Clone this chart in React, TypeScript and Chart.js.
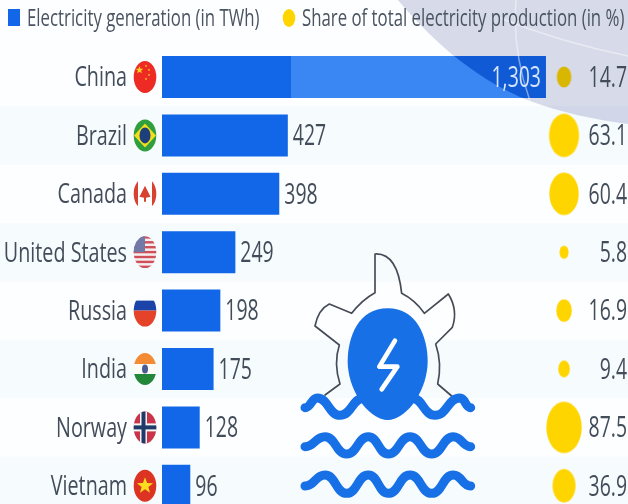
import React, { useEffect, useRef } from "react";
import { Chart, registerables } from "chart.js";

Chart.register(...registerables);

const countries = ["China", "Brazil", "Canada", "United States", "Russia", "India", "Norway", "Vietnam"];
const generation = [1303, 427, 398, 249, 198, 175, 128, 96];
const share = [14.7, 63.1, 60.4, 5.8, 16.9, 9.4, 87.5, 36.9];
const shareLabels = ["14.7", "63.1", "60.4", "5.8", "16.9", "9.4", "87.5", "36.9"];
const legendBar = "Electricity generation (in TWh)";
const legendShare = "Share of total electricity production (in %)";

const FONT = '"Open Sans", sans-serif';
const TEXT = "#434d5a";
const BLUE = "#1167e8";
const YELLOW = "#ffd500";

function text(ctx: any, s: string, x: number, y: number, size: number, align: string, color: string, sx: number) {
  ctx.save();
  ctx.translate(x, y);
  ctx.scale(sx, 1);
  ctx.font = `${size}px ${FONT}`;
  ctx.textAlign = align;
  ctx.textBaseline = "middle";
  ctx.fillStyle = color;
  ctx.fillText(s, 0, 0);
  ctx.restore();
}

function dot(value: number) {
  const rx = 1.89 * Math.sqrt(value);
  const ry = rx * 1.45;
  const c = document.createElement("canvas");
  c.width = Math.ceil(rx * 2) + 2;
  c.height = Math.ceil(ry * 2) + 2;
  const g = c.getContext("2d")!;
  g.fillStyle = YELLOW;
  g.beginPath();
  g.ellipse(c.width / 2, c.height / 2, rx, ry, 0, 0, Math.PI * 2);
  g.fill();
  return c;
}

function swooshPath(ctx: any) {
  ctx.beginPath();
  ctx.moveTo(398, 0);
  ctx.bezierCurveTo(425, 32, 470, 78, 530, 101);
  ctx.bezierCurveTo(560, 112, 595, 120, 628, 124);
  ctx.lineTo(628, 0);
  ctx.closePath();
}

function star(ctx: any, x: number, y: number, r: number, color: string) {
  ctx.fillStyle = color;
  ctx.beginPath();
  for (let i = 0; i < 10; i++) {
    const a = -Math.PI / 2 + (i * Math.PI) / 5;
    const q = i % 2 ? r * 0.42 : r;
    ctx.lineTo(x + q * Math.cos(a), y + q * Math.sin(a));
  }
  ctx.closePath();
  ctx.fill();
}

function flag(ctx: any, name: string, cx: number, cy: number) {
  const rect = (c: string, x: number, y: number, w: number, h: number) => {
    ctx.fillStyle = c;
    ctx.fillRect(cx + x, cy + y, w, h);
  };
  ctx.save();
  ctx.beginPath();
  ctx.ellipse(cx, cy, 11.3, 16, 0, 0, Math.PI * 2);
  ctx.clip();
  if (name === "China") {
    rect("#ee2a24", -12, -17, 24, 34);
    star(ctx, cx - 5.5, cy - 7, 4, "#f7d51d");
    [[1, -11], [4, -7], [4, -2], [1, 2]].forEach(([a, b]) => star(ctx, cx + a, cy + b, 1.4, "#f7d51d"));
  } else if (name === "Brazil") {
    rect("#2f9e3c", -12, -17, 24, 34);
    ctx.fillStyle = "#f2de1e";
    ctx.beginPath();
    ctx.moveTo(cx - 11, cy);
    ctx.lineTo(cx, cy - 12);
    ctx.lineTo(cx + 11, cy);
    ctx.lineTo(cx, cy + 12);
    ctx.closePath();
    ctx.fill();
    ctx.fillStyle = "#1d3f7c";
    ctx.beginPath();
    ctx.ellipse(cx, cy, 5.5, 8, 0, 0, Math.PI * 2);
    ctx.fill();
  } else if (name === "Canada") {
    rect("#ffffff", -12, -17, 24, 34);
    rect("#d8402f", -12, -17, 5, 34);
    rect("#d8402f", 7, -17, 5, 34);
    ctx.fillStyle = "#d8402f";
    ctx.beginPath();
    ctx.moveTo(cx, cy - 8);
    ctx.lineTo(cx + 5.5, cy + 3);
    ctx.lineTo(cx + 1, cy + 4);
    ctx.lineTo(cx + 1, cy + 8);
    ctx.lineTo(cx - 1, cy + 8);
    ctx.lineTo(cx - 1, cy + 4);
    ctx.lineTo(cx - 5.5, cy + 3);
    ctx.closePath();
    ctx.fill();
  } else if (name === "United States") {
    rect("#f5f0f0", -12, -17, 24, 34);
    for (let i = 0; i < 7; i++) rect("#cf4f5a", -12, -16 + i * 4.9, 24, 2.4);
    rect("#717aa6", -12, -17, 12, 17);
  } else if (name === "Russia") {
    rect("#fbfcfe", -12, -17, 24, 7);
    rect("#1c44a8", -12, -10, 24, 10);
    rect("#e4432a", -12, 0, 24, 17);
  } else if (name === "India") {
    rect("#f58a35", -12, -17, 24, 12);
    rect("#fbfbf8", -12, -5, 24, 10);
    rect("#23873a", -12, 5, 24, 12);
    ctx.fillStyle = "#4a5a92";
    ctx.beginPath();
    ctx.ellipse(cx, cy, 3, 4.5, 0, 0, Math.PI * 2);
    ctx.fill();
  } else if (name === "Norway") {
    rect("#c9344a", -12, -17, 24, 34);
    rect("#f7f7f7", -5, -17, 7, 34);
    rect("#f7f7f7", -12, -4, 24, 8);
    rect("#1f3a68", -3.5, -17, 4, 34);
    rect("#1f3a68", -12, -2, 24, 4);
  } else {
    rect("#dc3322", -12, -17, 24, 34);
    star(ctx, cx, cy, 8.5, "#fbdc1e");
  }
  ctx.restore();
}

function wave(ctx: any, points: number[][]) {
  ctx.beginPath();
  ctx.moveTo(points[0][0], points[0][1]);
  for (let i = 1; i < points.length; i++) {
    const [x0, y0] = points[i - 1];
    const [x1, y1] = points[i];
    const m = (x0 + x1) / 2;
    ctx.bezierCurveTo(m, y0, m, y1, x1, y1);
  }
  ctx.stroke();
}

function turbine(ctx: any) {
  ctx.save();
  ctx.translate(290, 240);
  ctx.scale(1 / 3, 1 / 3);
  ctx.lineJoin = "round";
  ctx.lineCap = "round";
  ctx.strokeStyle = "#454c56";
  ctx.lineWidth = 5;
  ctx.beginPath();
  ctx.moveTo(105, 465);
  ctx.lineTo(150, 432);
  ctx.quadraticCurveTo(130, 370, 148, 315);
  ctx.lineTo(75, 258);
  ctx.quadraticCurveTo(85, 208, 118, 192);
  ctx.lineTo(185, 220);
  ctx.quadraticCurveTo(215, 180, 255, 158);
  ctx.lineTo(255, 42);
  ctx.quadraticCurveTo(322, 38, 335, 160);
  ctx.quadraticCurveTo(375, 180, 403, 220);
  ctx.lineTo(475, 162);
  ctx.quadraticCurveTo(505, 210, 487, 262);
  ctx.lineTo(437, 312);
  ctx.quadraticCurveTo(457, 370, 443, 432);
  ctx.lineTo(485, 468);
  ctx.stroke();

  ctx.fillStyle = "#1770e6";
  ctx.beginPath();
  ctx.moveTo(293, 205);
  ctx.bezierCurveTo(380, 205, 413, 290, 413, 365);
  ctx.bezierCurveTo(413, 440, 360, 535, 293, 540);
  ctx.bezierCurveTo(226, 535, 173, 440, 173, 365);
  ctx.bezierCurveTo(173, 290, 206, 205, 293, 205);
  ctx.fill();

  ctx.strokeStyle = "#ffffff";
  ctx.lineWidth = 14;
  ctx.beginPath();
  ctx.moveTo(315, 302);
  ctx.lineTo(268, 380);
  ctx.lineTo(322, 380);
  ctx.lineTo(275, 448);
  ctx.stroke();

  ctx.strokeStyle = "#1770e6";
  ctx.lineWidth = 27;
  wave(ctx, [[45, 503], [82, 474], [150, 526], [222, 474], [293, 526], [365, 474], [435, 526], [510, 474], [542, 503]]);
  wave(ctx, [[45, 620], [105, 590], [170, 642], [235, 590], [295, 642], [360, 590], [425, 642], [490, 590], [542, 620]]);
  wave(ctx, [[45, 738], [105, 705], [170, 760], [235, 705], [295, 760], [360, 705], [425, 760], [490, 705], [542, 738]]);
  ctx.restore();
}

const decor = {
  id: "decor",
  beforeDatasetsDraw(chart: any) {
    const { ctx, scales } = chart;
    ctx.save();
    ctx.fillStyle = "#fdfeff";
    ctx.fillRect(0, 0, chart.width, chart.height);
    const step = scales.y.getPixelForValue(1) - scales.y.getPixelForValue(0);
    ctx.fillStyle = "#f6fbfe";
    countries.forEach((_, i) => {
      if (i % 2 === 1) ctx.fillRect(0, scales.y.getPixelForValue(i) - step / 2, chart.width, step);
    });
    ctx.restore();
  },
  afterDatasetsDraw(chart: any) {
    const { ctx, scales } = chart;
    const bars = chart.getDatasetMeta(0).data;
    ctx.save();
    // grey disc laid over bar and dots
    ctx.globalCompositeOperation = "multiply";
    swooshPath(ctx);
    ctx.fillStyle = "#d9dbe9";
    ctx.fill();
    ctx.save();
    swooshPath(ctx);
    ctx.clip();
    const b = bars[0];
    ctx.fillStyle = "#55c8f5";
    ctx.fillRect(b.base, b.y - b.height / 2, b.x - b.base, b.height);
    ctx.restore();
    ctx.globalCompositeOperation = "source-over";
    ctx.save();
    swooshPath(ctx);
    ctx.clip();
    ctx.strokeStyle = "rgba(255,255,255,0.45)";
    ctx.lineWidth = 1.5;
    ctx.beginPath();
    ctx.moveTo(516, 0);
    ctx.quadraticCurveTo(512, 50, 530, 101);
    ctx.moveTo(500, 18);
    ctx.quadraticCurveTo(560, 42, 628, 56);
    ctx.stroke();
    ctx.restore();

    // legend
    ctx.fillStyle = BLUE;
    ctx.fillRect(8, 9, 12, 17);
    text(ctx, legendBar, 27, 19, 23, "left", "#4a5461", 0.73);
    ctx.fillStyle = YELLOW;
    ctx.beginPath();
    ctx.ellipse(289, 18, 6.3, 9, 0, 0, Math.PI * 2);
    ctx.fill();
    text(ctx, legendShare, 302, 19, 23, "left", "#4a5461", 0.73);

    countries.forEach((name, i) => {
      const y = scales.y.getPixelForValue(i);
      text(ctx, name, 127, y + 1.5, 28, "right", TEXT, 0.705);
      flag(ctx, name, 145, y);
      const bar = bars[i];
      const label = generation[i].toLocaleString("en-US");
      if (i === 0) text(ctx, label, bar.x - 5, y + 1.5, 29, "right", "#d5e6fb", 0.67);
      else text(ctx, label, bar.x + 5, y + 1.5, 29, "left", TEXT, 0.67);
      text(ctx, shareLabels[i], 627, y + 1.5, 29, "right", TEXT, 0.67);
    });
    turbine(ctx);
    ctx.restore();
  },
};

export default function App() {
  const ref = useRef<HTMLCanvasElement>(null);
  useEffect(() => {
    const chart = new Chart(ref.current!, {
      data: {
        labels: countries,
        datasets: [
          {
            type: "bar",
            label: legendBar,
            indexAxis: "y",
            data: generation,
            xAxisID: "x",
            yAxisID: "y",
            grouped: false,
            barPercentage: 1,
            categoryPercentage: 42 / 58.4,
            order: 2,
            backgroundColor: (c: any) => {
              if (c.dataIndex !== 0 || !c.chart.chartArea) return BLUE;
              const x0 = c.chart.scales.x.getPixelForValue(0);
              const x1 = c.chart.scales.x.getPixelForValue(generation[0]);
              const g = c.chart.ctx.createLinearGradient(x0, 0, x1, 0);
              g.addColorStop(0, BLUE);
              g.addColorStop(0.336, BLUE);
              g.addColorStop(0.337, "#3a86f3");
              g.addColorStop(1, "#3a86f3");
              return g;
            },
          },
          {
            type: "scatter",
            label: legendShare,
            data: share.map((_, i) => ({ x: 0.8627, y: i })),
            xAxisID: "x2",
            yAxisID: "y",
            order: 1,
            clip: false,
            pointStyle: share.map(dot),
            pointRadius: 10,
            backgroundColor: YELLOW,
          },
        ],
      } as any,
      options: {
        animation: false,
        responsive: false,
        layout: { autoPadding: false, padding: { left: 162, right: 0, top: 47.8, bottom: 5 } },
        plugins: { legend: { display: false }, tooltip: { enabled: false } },
        scales: {
          x: { type: "linear", min: 0, max: 1581.4, display: false },
          x2: { type: "linear", min: 0, max: 1, display: false },
          y: { type: "category", display: false, offset: true },
        },
      } as any,
      plugins: [decor],
    });
    return () => chart.destroy();
  }, []);
  return (
    <div style={{ position: "fixed", left: 0, top: 0, width: 628, height: 504, overflow: "hidden", background: "#fdfeff" }}>
      <canvas ref={ref} width={628} height={520} style={{ display: "block", width: 628, height: 520, filter: "blur(0.4px)" }} />
    </div>
  );
}
